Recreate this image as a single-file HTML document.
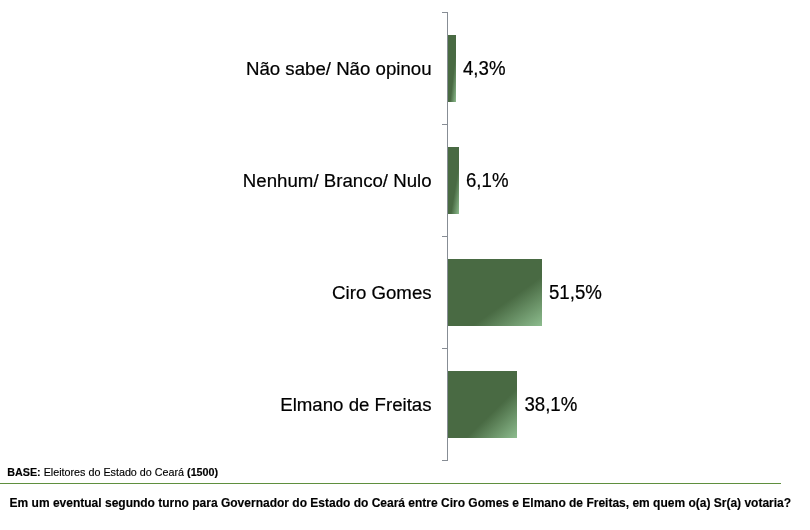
<!DOCTYPE html>
<html>
<head>
<meta charset="utf-8">
<title>Pesquisa</title>
<style>
html,body{margin:0;padding:0;background:#fff;}
body{width:810px;height:530px;overflow:hidden;font-family:"Liberation Sans",sans-serif;}
svg{display:block;}
text{font-family:"Liberation Sans",sans-serif;fill:#000;stroke:#000;stroke-width:0.2px;stroke-linejoin:round;}
.cat{font-size:18.67px;text-anchor:end;}
.val{font-size:18.67px;text-anchor:start;}
.base{font-size:10.75px;stroke-width:0.15px;}
.q{font-size:12.01px;font-weight:bold;stroke-width:0.15px;}
</style>
</head>
<body>
<svg width="810" height="530" viewBox="0 0 810 530">
  <defs>
    <linearGradient id="g" x1="0" y1="0" x2="1" y2="1">
      <stop offset="0" stop-color="#496a43"/>
      <stop offset="0.63" stop-color="#496a43"/>
      <stop offset="1" stop-color="#8dbc8e"/>
    </linearGradient>
  </defs>
  <rect x="0" y="0" width="810" height="530" fill="#ffffff"/>

  <!-- bars -->
  <rect x="448" y="35" width="8" height="67" fill="url(#g)"/>
  <rect x="448" y="147" width="11" height="67" fill="url(#g)"/>
  <rect x="448" y="259" width="94" height="67" fill="url(#g)"/>
  <rect x="448" y="371" width="69" height="67" fill="url(#g)"/>

  <!-- axis -->
  <g fill="#878d95">
    <rect x="447" y="12" width="1" height="449"/>
    <rect x="442" y="12" width="5" height="1"/>
    <rect x="442" y="124" width="5" height="1"/>
    <rect x="442" y="236" width="5" height="1"/>
    <rect x="442" y="348" width="5" height="1"/>
    <rect x="442" y="460" width="5" height="1"/>
  </g>

  <!-- category labels -->
  <text class="cat" x="431.6" y="75.3">Não sabe/ Não opinou</text>
  <text class="cat" x="431.6" y="187.3">Nenhum/ Branco/ Nulo</text>
  <text class="cat" x="431.6" y="299.3">Ciro Gomes</text>
  <text class="cat" x="431.6" y="411.3">Elmano de Freitas</text>

  <!-- values -->
  <text class="val" transform="translate(463 75.3) scale(1 1.04)">4,3%</text>
  <text class="val" transform="translate(466 187.3) scale(1 1.04)">6,1%</text>
  <text class="val" transform="translate(549 299.3) scale(1 1.04)">51,5%</text>
  <text class="val" transform="translate(524.4 411.3) scale(1 1.04)">38,1%</text>

  <!-- footer -->
  <text class="base" x="7.2" y="475.8"><tspan font-weight="bold">BASE:</tspan> Eleitores do Estado do Ceará <tspan font-weight="bold">(1500)</tspan></text>
  <rect x="0" y="483" width="781" height="1" fill="#5f8f3e"/>
  <text class="q" x="9.6" y="507.2">Em um eventual segundo turno para Governador do Estado do Ceará entre Ciro Gomes e Elmano de Freitas, em quem o(a) Sr(a) votaria?</text>
</svg>
</body>
</html>
